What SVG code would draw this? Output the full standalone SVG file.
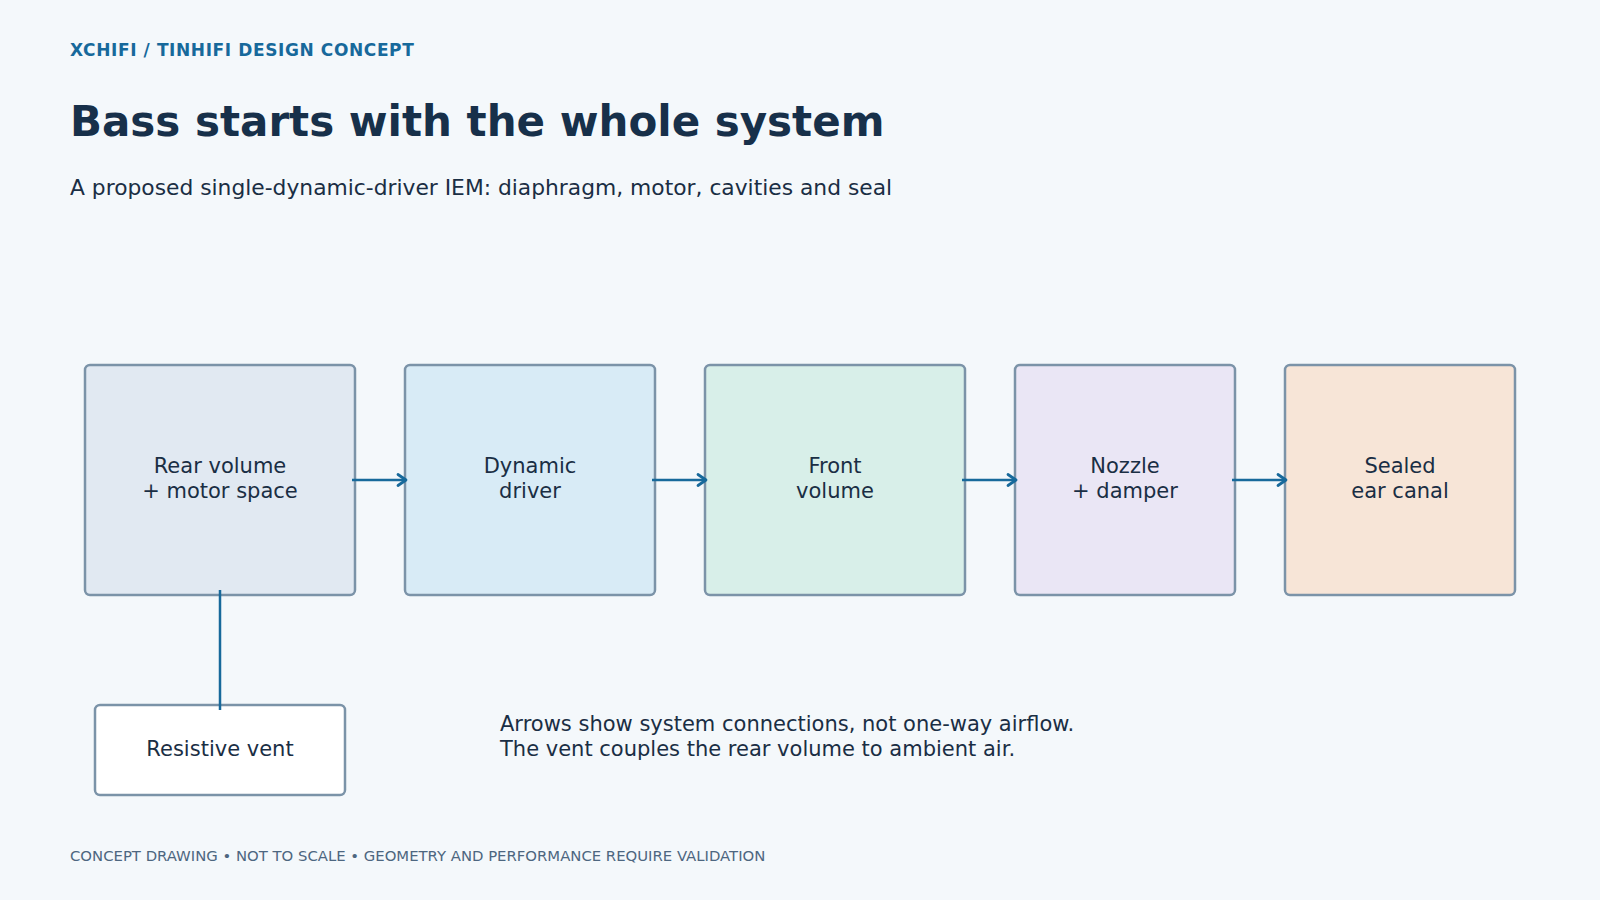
<svg xmlns="http://www.w3.org/2000/svg" width="1600" height="900" viewBox="0 0 1600 900">
<defs>
<style>
.t{font-family:"DejaVu Sans","Verdana",sans-serif;fill:#1a2e44}
.node rect{stroke:#7b93a8;stroke-width:2.5}
.lbl{font-size:21px;text-anchor:middle}
.conn line{stroke:#17699b;stroke-width:2.5;fill:none}
</style>
<marker id="arr" markerUnits="userSpaceOnUse" markerWidth="16" markerHeight="16" refX="11" refY="8" orient="auto">
<path d="M3,2.5 L11,8 L3,13.5" fill="none" stroke="#17699b" stroke-width="2.8" stroke-linecap="round" stroke-linejoin="round"/>
</marker>
</defs>
<rect x="0" y="0" width="1600" height="900" fill="#f4f8fb"/>
<text class="t" x="70" y="56" style="font-size:17px;font-weight:bold;fill:#17699b;letter-spacing:0.6px">XCHIFI / TINHIFI DESIGN CONCEPT</text>
<text class="t" x="70" y="136" style="font-size:42px;font-weight:bold;fill:#17304a">Bass starts with the whole system</text>
<text class="t" x="70" y="195" style="font-size:21.8px">A proposed single-dynamic-driver IEM: diaphragm, motor, cavities and seal</text>

<g id="rear" class="node">
<rect x="85" y="365" width="270" height="230" rx="5" fill="#e1e9f2"/>
<text class="t lbl" x="220" y="473">Rear volume</text>
<text class="t lbl" x="220" y="498">+ motor space</text>
</g>
<g id="driver" class="node">
<rect x="405" y="365" width="250" height="230" rx="5" fill="#d8ebf6"/>
<text class="t lbl" x="530" y="473">Dynamic</text>
<text class="t lbl" x="530" y="498">driver</text>
</g>
<g id="front" class="node">
<rect x="705" y="365" width="260" height="230" rx="5" fill="#d8efe9"/>
<text class="t lbl" x="835" y="473">Front</text>
<text class="t lbl" x="835" y="498">volume</text>
</g>
<g id="nozzle" class="node">
<rect x="1015" y="365" width="220" height="230" rx="5" fill="#eae6f5"/>
<text class="t lbl" x="1125" y="473">Nozzle</text>
<text class="t lbl" x="1125" y="498">+ damper</text>
</g>
<g id="canal" class="node">
<rect x="1285" y="365" width="230" height="230" rx="5" fill="#f7e5d7"/>
<text class="t lbl" x="1400" y="473">Sealed</text>
<text class="t lbl" x="1400" y="498">ear canal</text>
</g>
<g id="vent" class="node">
<rect x="95" y="705" width="250" height="90" rx="5" fill="#ffffff"/>
<text class="t lbl" x="220" y="756">Resistive vent</text>
</g>

<g id="conn" class="conn">
<line x1="352" y1="480" x2="406" y2="480" marker-end="url(#arr)"/>
<line x1="652" y1="480" x2="706" y2="480" marker-end="url(#arr)"/>
<line x1="962" y1="480" x2="1016" y2="480" marker-end="url(#arr)"/>
<line x1="1232" y1="480" x2="1286" y2="480" marker-end="url(#arr)"/>
<line x1="220" y1="590" x2="220" y2="710"/>
</g>

<text class="t" x="500" y="731" style="font-size:21px">Arrows show system connections, not one-way airflow.</text>
<text class="t" x="500" y="756" style="font-size:21px">The vent couples the rear volume to ambient air.</text>
<text class="t" x="70" y="861" style="font-size:14.85px;fill:#4d6680">CONCEPT DRAWING • NOT TO SCALE • GEOMETRY AND PERFORMANCE REQUIRE VALIDATION</text>
</svg>
